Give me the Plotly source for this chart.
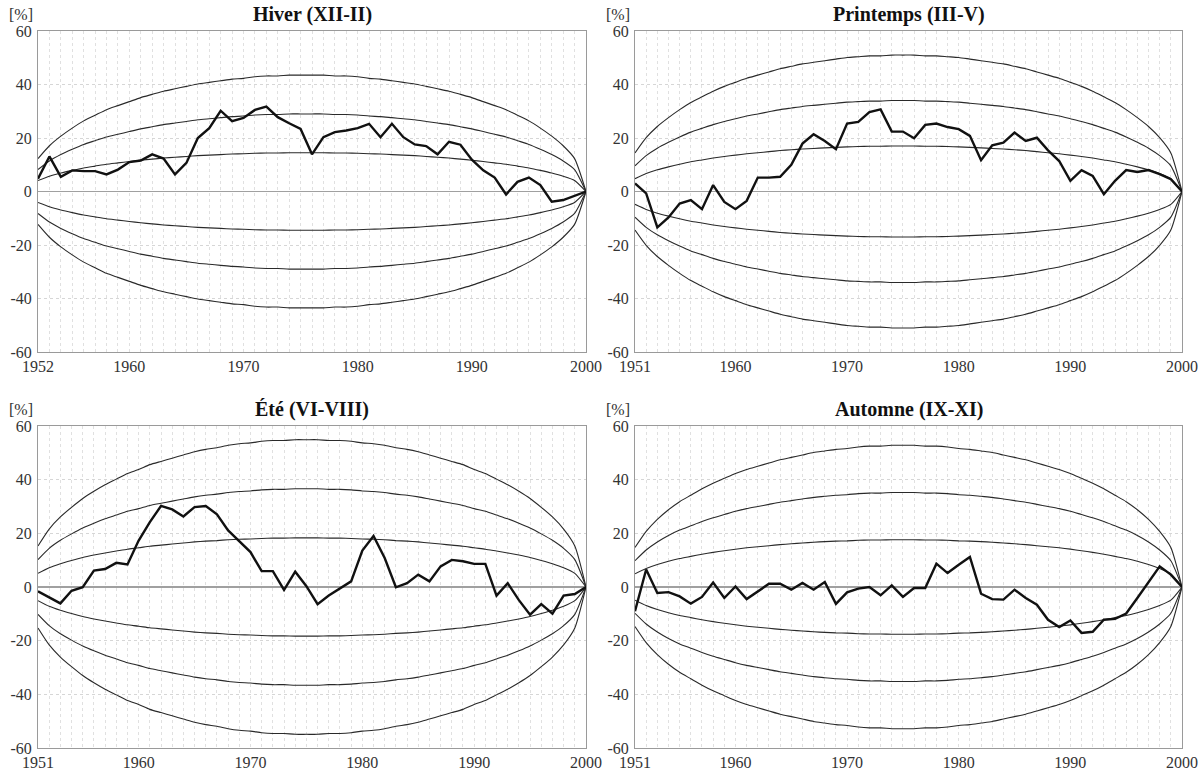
import plotly.graph_objects as go

# ---------------- data ----------------
years_hiver = list(range(1952, 2001))
years_other = list(range(1951, 2001))

hiver = [4.8, 13.1, 5.5, 7.9, 7.6, 7.6, 6.4, 8.2, 11.0, 11.6,
         13.9, 12.3, 6.4, 10.7, 20.0, 23.7, 30.2, 26.3, 27.5, 30.5,
         31.7, 27.8, 25.5, 23.4, 13.9, 20.3, 22.2, 22.8, 23.7, 25.3,
         20.3, 25.3, 20.3, 17.6, 17.0, 13.9, 18.6, 17.5, 11.9, 7.9,
         5.2, -1.1, 3.6, 5.2, 2.4, -3.8, -3.2, -1.7, 0.0]

printemps = [3.0, -0.7, -13.4, -9.7, -4.5, -3.2, -6.6, 2.4, -3.9, -6.6,
             -3.5, 5.2, 5.2, 5.5, 10.0, 17.9, 21.4, 18.9, 15.8, 25.4,
             26.0, 29.7, 30.7, 22.4, 22.4, 19.9, 24.9, 25.4, 24.1, 23.3,
             20.8, 11.7, 17.3, 18.3, 22.0, 18.9, 20.1, 15.4, 11.4, 4.0,
             8.0, 5.8, -1.0, 4.0, 8.0, 7.3, 8.0, 6.5, 4.6, 0.0]

ete = [-1.6, -3.8, -6.1, -1.4, -0.1, 6.1, 6.7, 9.0, 8.4, 17.3,
       24.2, 30.2, 28.9, 26.3, 29.8, 30.2, 27.1, 21.1, 17.1, 13.0,
       5.9, 5.9, -1.1, 5.7, 0.3, -6.4, -3.2, -0.5, 2.1, 13.6,
       19.0, 10.8, -0.1, 1.4, 4.6, 2.1, 7.7, 10.1, 9.6, 8.6,
       8.6, -3.2, 1.4, -4.9, -10.3, -6.4, -9.9, -3.2, -2.6, 0.0]

automne = [-9.0, 6.5, -2.2, -1.9, -3.5, -6.2, -3.7, 1.7, -4.1, 0.2,
           -4.5, -1.6, 1.2, 1.2, -1.0, 1.5, -1.0, 1.9, -6.3, -2.0,
           -0.6, 0.0, -3.1, 0.6, -3.7, -0.4, -0.4, 8.7, 5.2, 8.3,
           11.2, -2.5, -4.5, -4.7, -1.0, -4.1, -6.6, -12.2, -14.9, -12.5,
           -17.1, -16.7, -12.2, -11.9, -9.9, -4.1, 1.9, 7.7, 4.6, 0.0]

# inner (1x) confidence band, per panel
band_hiver = [4.1, 5.7, 6.9, 7.9, 8.8, 9.5, 10.2, 10.7, 11.2, 11.7,
              12.1, 12.5, 12.8, 13.1, 13.4, 13.6, 13.8, 14.0, 14.1, 14.3,
              14.4, 14.4, 14.5, 14.5, 14.5, 14.5, 14.4, 14.4, 14.3, 14.1,
              14.0, 13.8, 13.6, 13.4, 13.1, 12.8, 12.5, 12.1, 11.7, 11.2,
              10.7, 10.2, 9.5, 8.8, 7.9, 6.9, 5.7, 4.1, 0.0]
band_printemps = [4.8, 6.7, 8.1, 9.2, 10.2, 11.1, 11.8, 12.5, 13.1, 13.6,
                  14.1, 14.5, 14.9, 15.3, 15.6, 15.9, 16.1, 16.3, 16.5, 16.7,
                  16.8, 16.9, 16.9, 17.0, 17.0, 17.0, 16.9, 16.9, 16.8, 16.7,
                  16.5, 16.3, 16.1, 15.9, 15.6, 15.3, 14.9, 14.5, 14.1, 13.6,
                  13.1, 12.5, 11.8, 11.1, 10.2, 9.2, 8.1, 6.7, 4.8, 0.0]
band_ete = [5.1, 7.2, 8.7, 9.9, 11.0, 11.9, 12.7, 13.4, 14.1, 14.6,
            15.2, 15.6, 16.0, 16.4, 16.8, 17.1, 17.3, 17.6, 17.8, 17.9,
            18.1, 18.2, 18.2, 18.3, 18.3, 18.3, 18.2, 18.2, 18.1, 17.9,
            17.8, 17.6, 17.3, 17.1, 16.8, 16.4, 16.0, 15.6, 15.2, 14.6,
            14.1, 13.4, 12.7, 11.9, 11.0, 9.9, 8.7, 7.2, 5.1, 0.0]
band_automne = [4.9, 6.9, 8.4, 9.6, 10.6, 11.4, 12.2, 12.9, 13.5, 14.1,
                14.6, 15.0, 15.4, 15.8, 16.1, 16.4, 16.7, 16.9, 17.1, 17.2,
                17.4, 17.5, 17.5, 17.6, 17.6, 17.6, 17.5, 17.5, 17.4, 17.2,
                17.1, 16.9, 16.7, 16.4, 16.1, 15.8, 15.4, 15.0, 14.6, 14.1,
                13.5, 12.9, 12.2, 11.4, 10.6, 9.6, 8.4, 6.9, 4.9, 0.0]
band_multiples = [1, 2, 3, -1, -2, -3]

titles = ["Hiver (XII-II)", "Printemps (III-V)", "Été (VI-VIII)", "Automne (IX-XI)"]
xticks_hiver = [1952, 1960, 1970, 1980, 1990, 2000]
xticks_other = [1951, 1960, 1970, 1980, 1990, 2000]
yticks = [-60, -40, -20, 0, 20, 40, 60]
ytick_labels = ["-60", "-40", "-20", "0", "20", "40", "60"]

panels = [
    (years_hiver, hiver, band_hiver, xticks_hiver),
    (years_other, printemps, band_printemps, xticks_other),
    (years_other, ete, band_ete, xticks_other),
    (years_other, automne, band_automne, xticks_other),
]

# ---------------- layout geometry (pixels) ----------------
W, H = 1200, 773
xdom_px = [(38, 586), (635, 1182), (38, 586), (635, 1182)]
ydom_px = [(31, 352), (31, 352), (426, 748), (426, 748)]

FONT = "Liberation Serif, Times New Roman, serif"
fig = go.Figure()
annotations = []
layout_axes = {}

for i, (yrs, vals, band, xt) in enumerate(panels):
    n = i + 1
    xa = "x" if n == 1 else f"x{n}"
    ya = "y" if n == 1 else f"y{n}"
    for k in band_multiples:
        fig.add_trace(go.Scatter(
            x=yrs, y=[k * b for b in band], mode="lines",
            line=dict(color="#2a2a2a", width=1.1, shape="spline", smoothing=0.6),
            xaxis=xa, yaxis=ya, showlegend=False, hoverinfo="skip"))
    fig.add_trace(go.Scatter(
        x=yrs, y=vals, mode="lines",
        line=dict(color="#111111", width=2.4),
        xaxis=xa, yaxis=ya, showlegend=False))

    x0, x1 = xdom_px[i]
    y0, y1 = ydom_px[i]
    xkey = "xaxis" if n == 1 else f"xaxis{n}"
    ykey = "yaxis" if n == 1 else f"yaxis{n}"
    layout_axes[xkey] = dict(
        domain=[x0 / W, x1 / W], anchor=ya, automargin=False,
        range=[yrs[0], yrs[-1]], tickmode="array", tickvals=xt,
        ticktext=[str(v) for v in xt], ticks="",
        showgrid=True, gridcolor="#e0e0e0", gridwidth=1, griddash="dot",
        minor=dict(tick0=1951, dtick=1, showgrid=True, gridcolor="#e0e0e0",
                   gridwidth=1, griddash="dot"),
        showline=True, linecolor="#9a9a9a", linewidth=1, mirror=True,
        zeroline=False,
        tickfont=dict(family=FONT, size=16, color="#333333"),
        fixedrange=True)
    layout_axes[ykey] = dict(
        domain=[1 - y1 / H, 1 - y0 / H], anchor=xa, automargin=False,
        range=[-60, 60], tickmode="array", tickvals=yticks, ticktext=ytick_labels,
        ticks="",
        showgrid=True, gridcolor="#d6d6d6", gridwidth=1, griddash="dot",
        zeroline=True, zerolinecolor="#a0a0a0", zerolinewidth=1.2,
        showline=True, linecolor="#9a9a9a", linewidth=1, mirror=True,
        tickfont=dict(family=FONT, size=16, color="#333333"),
        ticklabelstandoff=2,
        fixedrange=True)

    annotations.append(dict(
        text=f"<b>{titles[i]}</b>", xref="paper", yref="paper",
        x=(x0 + x1) / 2 / W, y=1 - (y0 - 17) / H, xanchor="center", yanchor="middle",
        showarrow=False, font=dict(family=FONT, size=20, color="#111111")))
    annotations.append(dict(
        text="[%]", xref="paper", yref="paper",
        x=(x0 - 17) / W, y=1 - (y0 - 17) / H, xanchor="center", yanchor="middle",
        showarrow=False, font=dict(family=FONT, size=16, color="#333333")))

fig.update_layout(
    template="none",
    width=W, height=H,
    margin=dict(l=0, r=0, t=0, b=0, pad=0),
    font=dict(family=FONT, size=16, color="#333333"),
    paper_bgcolor="white", plot_bgcolor="white",
    annotations=annotations,
    **layout_axes)

fig.write_html(
    "out.html",
    config={"displayModeBar": False, "staticPlot": True},
    post_script="document.body.style.margin='0px';document.body.style.padding='0px';"
                "document.body.style.overflow='hidden';")
